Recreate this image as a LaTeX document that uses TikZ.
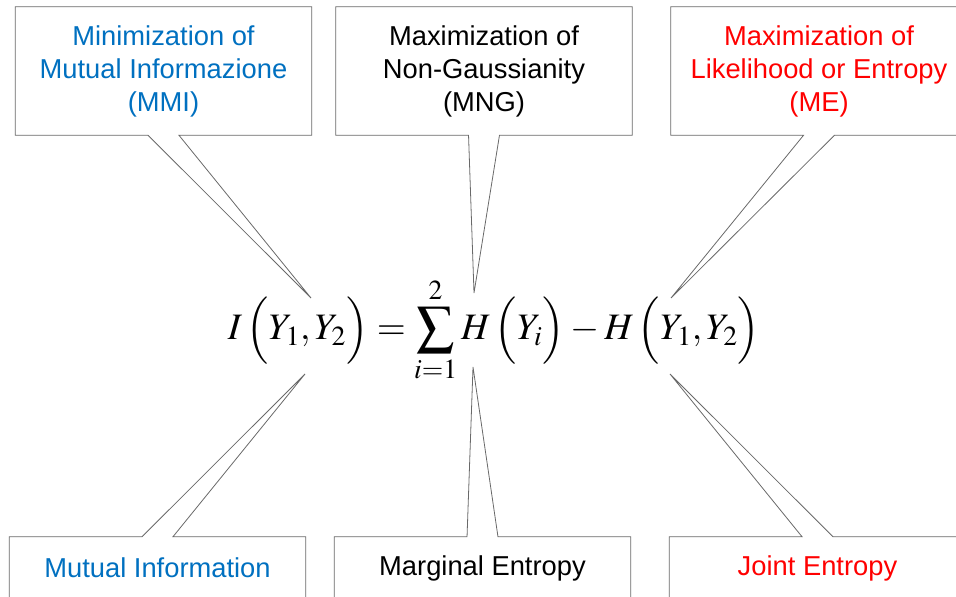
\documentclass[tikz,border=0pt]{standalone}
\usepackage{mathptmx}
\usepackage[no-math]{fontspec}
\setmainfont{Liberation Sans}
\usepackage{xcolor}
\usetikzlibrary{calc}
\definecolor{mmiblue}{RGB}{0,112,192}
\definecolor{edgegray}{RGB}{105,105,105}

\begin{document}
\begin{tikzpicture}[
        x=0.75pt, y=-0.75pt,
        callbox/.style={
            rectangle, inner sep=0pt,
            minimum width=222pt, minimum height=96pt,
            align=center, font=\fontsize{20.5}{24.75}\selectfont
        },
        lowbox/.style={callbox, minimum height=46.5pt},
        callout/.style={draw=edgegray, line width=0.6pt, line join=miter}
    ]
    \useasboundingbox (0,0) rectangle (956,596);

    % Formula
    \node (eq) at (494,330) {\fontsize{28}{30}\selectfont
        $\displaystyle I\,\Big(Y_1,Y_2\Big)=\sum_{i=1}^{2}H\,\Big(Y_i\Big)-H\,\Big(Y_1,Y_2\Big)$};

    % Upper callouts
    \node[callbox, text=mmiblue] (mmi) at (163.5,71) {Minimization of\\Mutual Informazione\\(MMI)};
    \node[callbox] (mng) at (484,71) {Maximization of\\Non-Gaussianity\\(MNG)};
    \node[callbox, text=red] (me) at (819,71) {Maximization of\\Likelihood or Entropy\\(ME)};

    % Lower callouts
    \node[lowbox, text=mmiblue] (mutinf) at (157.5,568) {Mutual Information};
    \node[lowbox] (marg) at (482.5,568) {Marginal Entropy};
    \node[lowbox, text=red] (joint) at (817.5,568) {Joint Entropy};

    % Pointer tips
    \coordinate (mmitip) at (311,298);
    \coordinate (mngtip) at (474,293);
    \coordinate (metip) at (671,298);
    \coordinate (mutinftip) at (305,374);
    \coordinate (margtip) at (473,367);
    \coordinate (jointtip) at (670,374);

    % Outlines with pointers
    \foreach \n in {mmi,mng,me}
        \draw[callout] (\n.north west) -- (\n.north east) -- (\n.south east)
            -- ([xshift=11.6pt]\n.south) -- (\n tip) -- ([xshift=-11.6pt]\n.south)
            -- (\n.south west) -- cycle;
    \foreach \n in {mutinf,marg,joint}
        \draw[callout] (\n.south west) -- (\n.north west)
            -- ([xshift=-11.6pt]\n.north) -- (\n tip) -- ([xshift=11.6pt]\n.north)
            -- (\n.north east) -- (\n.south east) -- cycle;

\end{tikzpicture}
\end{document}
